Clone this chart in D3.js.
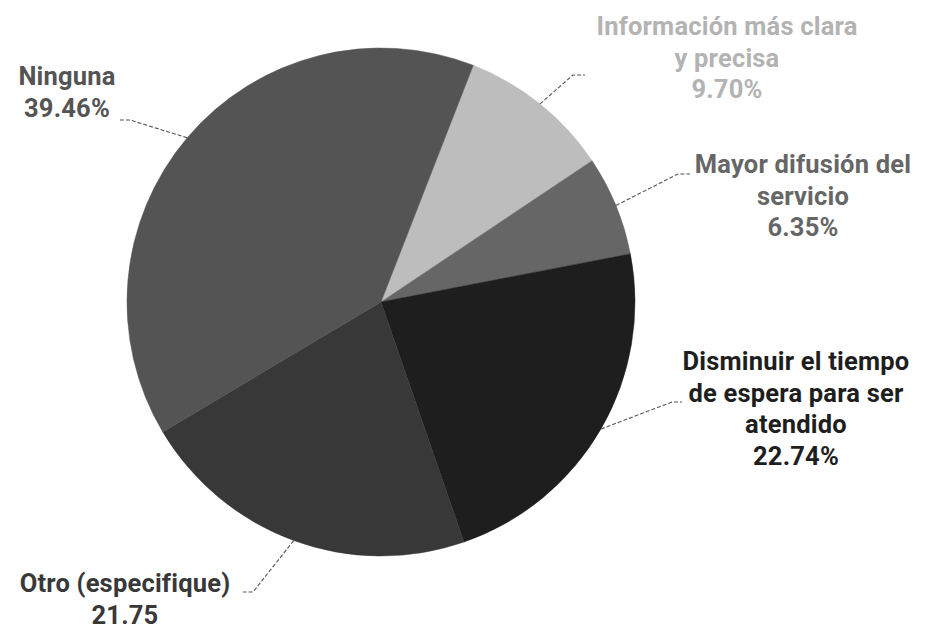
<!DOCTYPE html>
<html>
<head>
<meta charset="utf-8">
<script src="https://cdn.jsdelivr.net/npm/d3@7"></script>
<style>
  html, body { margin: 0; padding: 0; background: #fff; }
  svg { display: block; }
  text { font-family: Roboto, "Liberation Sans", sans-serif; font-weight: 700; }
</style>
</head>
<body>
<svg id="chart" width="926" height="629"></svg>
<script>
// Survey answers, in clockwise order from the top of the pie
const categories = [
  "Información más clara y precisa",
  "Mayor difusión del servicio",
  "Disminuir el tiempo de espera para ser atendido",
  "Otro (especifique)",
  "Ninguna"
];
const values = [9.70, 6.35, 22.74, 21.75, 39.46];
const valueLabels = ["9.70%", "6.35%", "22.74%", "21.75", "39.46%"];
const labelLines = [
  ["Información más clara", "y precisa"],
  ["Mayor difusión del", "servicio"],
  ["Disminuir el tiempo", "de espera para ser", "atendido"],
  ["Otro (especifique)"],
  ["Ninguna"]
];
const sliceColors = ["#bdbdbd", "#666666", "#1e1e1e", "#383838", "#545454"];
const textColors  = ["#b3b3b3", "#666666", "#1e1e1e", "#383838", "#545454"];

// Label placement: text anchor (x, first baseline) and leader elbow / end
const labelLayout = [
  { x: 727, y: 35,  elbow: [573, 75],  end: [585, 75] },
  { x: 803, y: 173, elbow: [678, 174], end: [690, 174] },
  { x: 796, y: 370, elbow: [672, 402], end: [682, 402] },
  { x: 125, y: 592, elbow: [253, 592], end: [243, 592] },
  { x: 67,  y: 85,  elbow: [130, 120], end: [120, 120] }
];

const cx = 381, cy = 302, radius = 254;
const lineH = 31.5;
const startAngle = 21.3 * Math.PI / 180;

const svg = d3.select("#chart");
const g = svg.append("g").attr("transform", `translate(${cx},${cy})`);

const data = categories.map((c, i) => ({ name: c, value: values[i], i }));

const pie = d3.pie()
  .value(d => d.value)
  .sort(null)
  .startAngle(startAngle)
  .endAngle(startAngle + 2 * Math.PI);

const arc = d3.arc().innerRadius(0).outerRadius(radius);
const arcs = pie(data);

g.selectAll("path.slice")
  .data(arcs)
  .join("path")
  .attr("class", "slice")
  .attr("d", arc)
  .attr("fill", d => sliceColors[d.data.i])
  .attr("stroke", d => sliceColors[d.data.i])
  .attr("stroke-width", 0.5);

// Leader lines from the rim at each slice's mid-angle
const line = d3.line();
svg.selectAll("path.leader")
  .data(arcs)
  .join("path")
  .attr("class", "leader")
  .attr("d", d => {
    const a = (d.startAngle + d.endAngle) / 2;
    const p0 = [cx + radius * Math.sin(a), cy - radius * Math.cos(a)];
    const L = labelLayout[d.data.i];
    return line([p0, L.elbow, L.end]);
  })
  .attr("fill", "none")
  .attr("stroke", "#555")
  .attr("stroke-width", 1.1)
  .attr("stroke-dasharray", "4,2");

// Labels
arcs.forEach(d => {
  const i = d.data.i;
  const L = labelLayout[i];
  const lines = labelLines[i].concat([valueLabels[i]]);
  const t = svg.append("text")
    .attr("text-anchor", "middle")
    .attr("fill", textColors[i])
    .attr("font-size", 25.5)
    .attr("letter-spacing", 0.2);
  lines.forEach((s, k) => {
    t.append("tspan").attr("x", L.x).attr("y", L.y + k * lineH).text(s);
  });
});
</script>
</body>
</html>
